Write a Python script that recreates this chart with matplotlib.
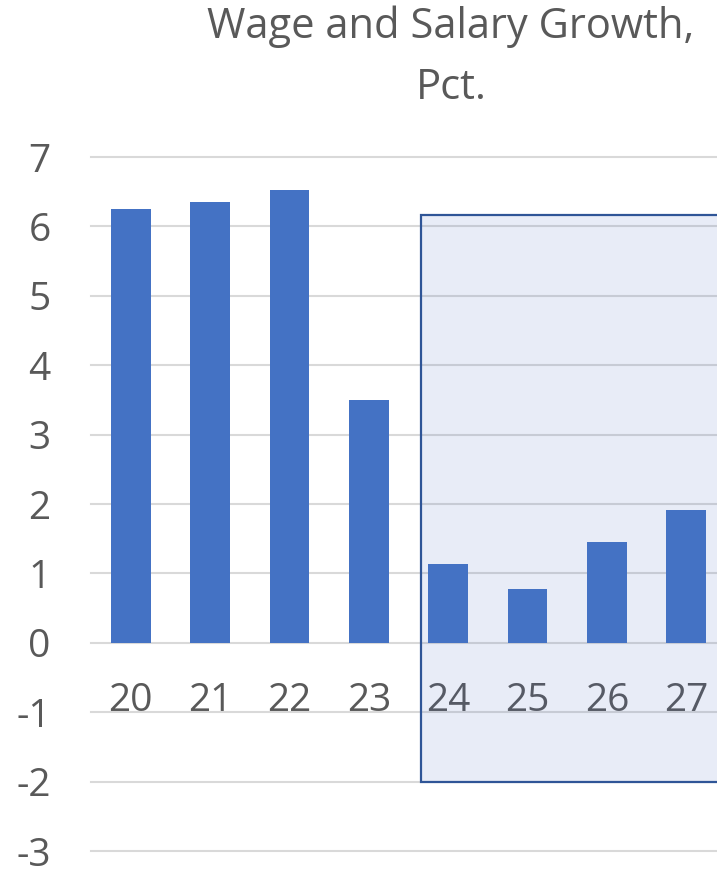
import matplotlib

matplotlib.use("Agg")
import matplotlib.pyplot as plt
from matplotlib.patches import Rectangle

# data
years = ["20", "21", "22", "23", "24", "25", "26", "27"]
growth = [6.25, 6.35, 6.53, 3.50, 1.13, 0.77, 1.45, 1.91]
forecast_box = (3.655, -2.0, 6.16)  # x start, y bottom, y top
y_ticks = list(range(-3, 8))

TEXT = "#595959"
BAR = "#4472C4"
GRID = "#D9D9D9"

plt.rcParams["font.family"] = ["Open Sans", "DejaVu Sans"]

fig = plt.figure(figsize=(7.17, 8.71), dpi=100)
ax = fig.add_axes([91 / 717, 20 / 871, 635 / 717, 694 / 871])

x = list(range(len(years)))
ax.bar(x, growth, width=0.5, color=BAR, zorder=3)

x0, y0, y1 = forecast_box
ax.add_patch(Rectangle((x0, y0), 10, y1 - y0, facecolor=(0.27, 0.40, 0.75, 0.12),
                       edgecolor="#2F5597", linewidth=1.6, zorder=2))

ax.set_xlim(-0.5, len(years) - 0.5)
ax.set_ylim(-3, 7)
ax.set_yticks(y_ticks)
ax.set_yticklabels([str(v) for v in y_ticks])
ax.set_xticks(x)
ax.set_xticklabels(years)

ax.grid(axis="y", color=GRID, linewidth=1.5, zorder=1)
ax.set_axisbelow(True)
for gl in ax.get_ygridlines():
    gl.set_clip_on(False)

for s in ax.spines.values():
    s.set_visible(False)
ax.spines["bottom"].set_position(("data", 0))

ax.tick_params(axis="y", length=0, pad=29, labelsize=28, labelcolor=TEXT)
ax.tick_params(axis="x", length=0, pad=28, labelsize=28, labelcolor=TEXT)

fig.text(451 / 717, 1 - 38 / 871, "Wage and Salary Growth,", ha="center", va="baseline",
         fontsize=30, color=TEXT)
fig.text(451 / 717, 1 - 99 / 871, "Pct.", ha="center", va="baseline",
         fontsize=30, color=TEXT)

fig.savefig("out.png", dpi=100)
plt.close(fig)
